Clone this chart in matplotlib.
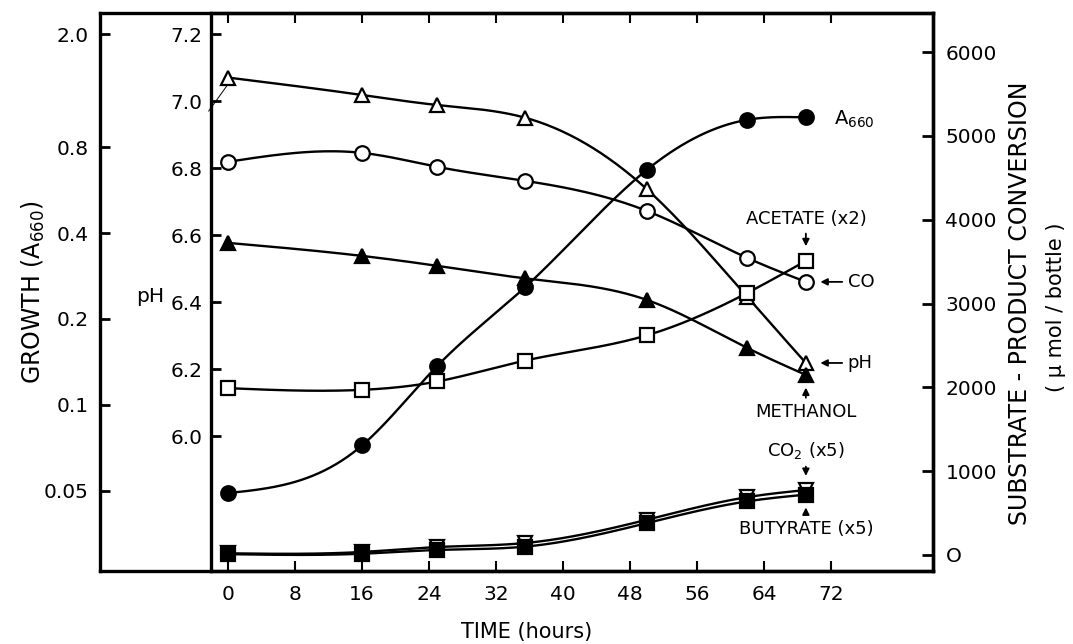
import numpy as np
import matplotlib
matplotlib.use('Agg')
import matplotlib.pyplot as plt

#data
hours = [0, 16, 25, 35.5, 50, 62, 69]
growth = [0.049, 0.072, 0.137, 0.259, 0.667, 1.0, 1.02]
ph = [7.07, 7.018, 6.988, 6.95, 6.737, 6.415, 6.218]
co = [4690, 4797, 4630, 4463, 4105, 3544, 3258]
acetate = [1990, 1970, 2070, 2320, 2620, 3126, 3508]
methanol = [3723, 3568, 3449, 3300, 3043, 2470, 2148]
co2 = [20, 36, 95, 143, 420, 690, 775]
butyrate = [10, 15, 60, 100, 380, 640, 720]

time_ticks = [0, 8, 16, 24, 32, 40, 48, 56, 64, 72]
growth_ticks = [0.05, 0.1, 0.2, 0.4, 0.8, 2.0]
growth_labels = ['0.05', '0.1', '0.2', '0.4', '0.8', '2.0']
ph_ticks = [6.0, 6.2, 6.4, 6.6, 6.8, 7.0, 7.2]
conv_ticks = [0, 1000, 2000, 3000, 4000, 5000, 6000]

plt.rcParams['font.family'] = 'DejaVu Sans'
plt.rcParams['mathtext.fontset'] = 'dejavusans'

W, H = 1073, 644


def fx(px):
    return px / W


def fy(py):
    return 1 - py / H


def smooth(x, y, n=300):
    #natural cubic spline through the points, for drawing the curve only
    x = np.asarray(x, float)
    y = np.asarray(y, float)
    k = len(x)
    h = np.diff(x)
    A = np.zeros((k, k))
    b = np.zeros(k)
    A[0, 0] = A[-1, -1] = 1
    for i in range(1, k - 1):
        A[i, i - 1] = h[i - 1]
        A[i, i] = 2 * (h[i - 1] + h[i])
        A[i, i + 1] = h[i]
        b[i] = 6 * ((y[i + 1] - y[i]) / h[i] - (y[i] - y[i - 1]) / h[i - 1])
    M = np.linalg.solve(A, b)
    xs = np.linspace(x[0], x[-1], n)
    j = np.clip(np.searchsorted(x, xs) - 1, 0, k - 2)
    a = x[j + 1] - xs
    c = xs - x[j]
    ys = (M[j] * a ** 3 / (6 * h[j]) + M[j + 1] * c ** 3 / (6 * h[j])
          + (y[j] / h[j] - M[j] * h[j] / 6) * a
          + (y[j + 1] / h[j] - M[j + 1] * h[j] / 6) * c)
    return xs, ys


fig = plt.figure(figsize=(W / 100, H / 100), dpi=100)

top, bot = 13, 571
xmin = (211 - 228) / 8.375
xmax = (933 - 228) / 8.375
ph_lim = (7.2 - (bot - 34) / 335, 7.2 + (34 - top) / 335)
g_lim = (2.0 / 10 ** ((bot - 34) / 285), 2.0 * 10 ** ((34 - top) / 285))
c_lim = (-(bot - 555) / 0.0838, 6000 + (52 - top) / 0.0838)

tfs = 14.5

#outer frame with growth axis
ax_g = fig.add_axes([fx(100), fy(bot), fx(933 - 100), (bot - top) / H])
ax_g.set_yscale('log')
ax_g.set_ylim(*g_lim)
ax_g.set_xticks([])
ax_g.set_yticks(growth_ticks)
ax_g.set_yticklabels(growth_labels, fontsize=tfs)
ax_g.yaxis.set_minor_locator(matplotlib.ticker.NullLocator())
ax_g.tick_params(axis='y', direction='in', length=7, width=2, pad=8)
for s in ax_g.spines.values():
    s.set_linewidth(2.4)

#pH axes
ax = fig.add_axes([fx(211), fy(bot), fx(933 - 211), (bot - top) / H])
ax.patch.set_alpha(0)
ax.set_xlim(xmin, xmax)
ax.set_ylim(*ph_lim)
ax.set_xticks(time_ticks)
ax.set_xticklabels([str(t) for t in time_ticks], fontsize=tfs)
ax.set_yticks(ph_ticks)
ax.set_yticklabels(['%.1f' % v for v in ph_ticks], fontsize=tfs)
ax.tick_params(axis='x', direction='in', length=7, width=1.5, pad=10,
               top=True)
ax.tick_params(axis='y', direction='in', length=7, width=2, pad=6)
for s in ax.spines.values():
    s.set_linewidth(2.4)

#conversion axis
ax_c = ax.twinx()
ax_c.set_ylim(*c_lim)
ax_c.set_yticks(conv_ticks)
ax_c.set_yticklabels(['O' if v == 0 else str(v) for v in conv_ticks],
                     fontsize=tfs)
ax_c.tick_params(axis='y', direction='in', length=8, width=2, pad=9)
for s in ax_c.spines.values():
    s.set_visible(False)

#growth data axis
ax_d = ax.twinx()
ax_d.set_yscale('log')
ax_d.set_ylim(*g_lim)
ax_d.axis('off')

lw = 1.7
ms = 10.5
mew = 1.6


def draw(axis, y, marker, fill, log=False):
    if log:
        xs, ys = smooth(hours, np.log10(y))
        ys = 10 ** ys
    else:
        xs, ys = smooth(hours, y)
    axis.plot(xs, ys, color='k', lw=lw, zorder=3)
    axis.plot(hours, y, ls='none', marker=marker, ms=ms, mew=mew,
              mec='k', mfc=fill, zorder=4)


draw(ax_c, co2, 'v', 'white')
draw(ax_c, butyrate, 's', 'k')
draw(ax_c, acetate, 's', 'white')
draw(ax_c, methanol, '^', 'k')
draw(ax_c, co, 'o', 'white')
draw(ax, ph, '^', 'white')
draw(ax_d, growth, 'o', 'k', log=True)

#thin leader from 7.0 label
ax.plot([-2.3, 0], [6.97, 7.05], color='k', lw=0.7, clip_on=False)

#labels
fs = 13
arr = dict(arrowstyle='-|>', color='k', lw=1.3, mutation_scale=10)
ax_d.text(72.3, 1.0, 'A$_{660}$', fontsize=fs + 1, va='center')
ax_c.annotate('ACETATE (x2)', xy=(69, 3650), xytext=(69, 3900),
              ha='center', va='bottom', fontsize=fs, arrowprops=arr)
ax_c.annotate('CO', xy=(70.4, 3258), xytext=(74, 3258),
              ha='left', va='center', fontsize=fs, arrowprops=arr)
ax.annotate('pH', xy=(70.4, 6.218), xytext=(74, 6.218),
            ha='left', va='center', fontsize=fs, arrowprops=arr)
ax_c.annotate('METHANOL', xy=(69, 2030), xytext=(69, 1810),
              ha='center', va='top', fontsize=fs, arrowprops=arr)
ax_c.annotate('CO$_2$ (x5)', xy=(69, 910), xytext=(69, 1120),
              ha='center', va='bottom', fontsize=fs, arrowprops=arr)
ax_c.annotate('BUTYRATE (x5)', xy=(69, 600), xytext=(69, 420),
              ha='center', va='top', fontsize=fs, arrowprops=arr)

fig.text(fx(150), fy(297), 'pH', fontsize=tfs, ha='center', va='center')
fig.text(fx(33), fy(292), 'GROWTH (A$_{660}$)', fontsize=17,
         rotation=90, ha='center', va='center')
fig.text(fx(1020), fy(303), 'SUBSTRATE - PRODUCT CONVERSION', fontsize=17,
         rotation=90, ha='center', va='center')
fig.text(fx(1056), fy(307), '( \u00b5 mol / bottle )', fontsize=15,
         rotation=90, ha='center', va='center')
fig.text(fx(527), fy(632), 'TIME (hours)', fontsize=15,
         ha='center', va='center')

fig.savefig('out.png', dpi=100)
